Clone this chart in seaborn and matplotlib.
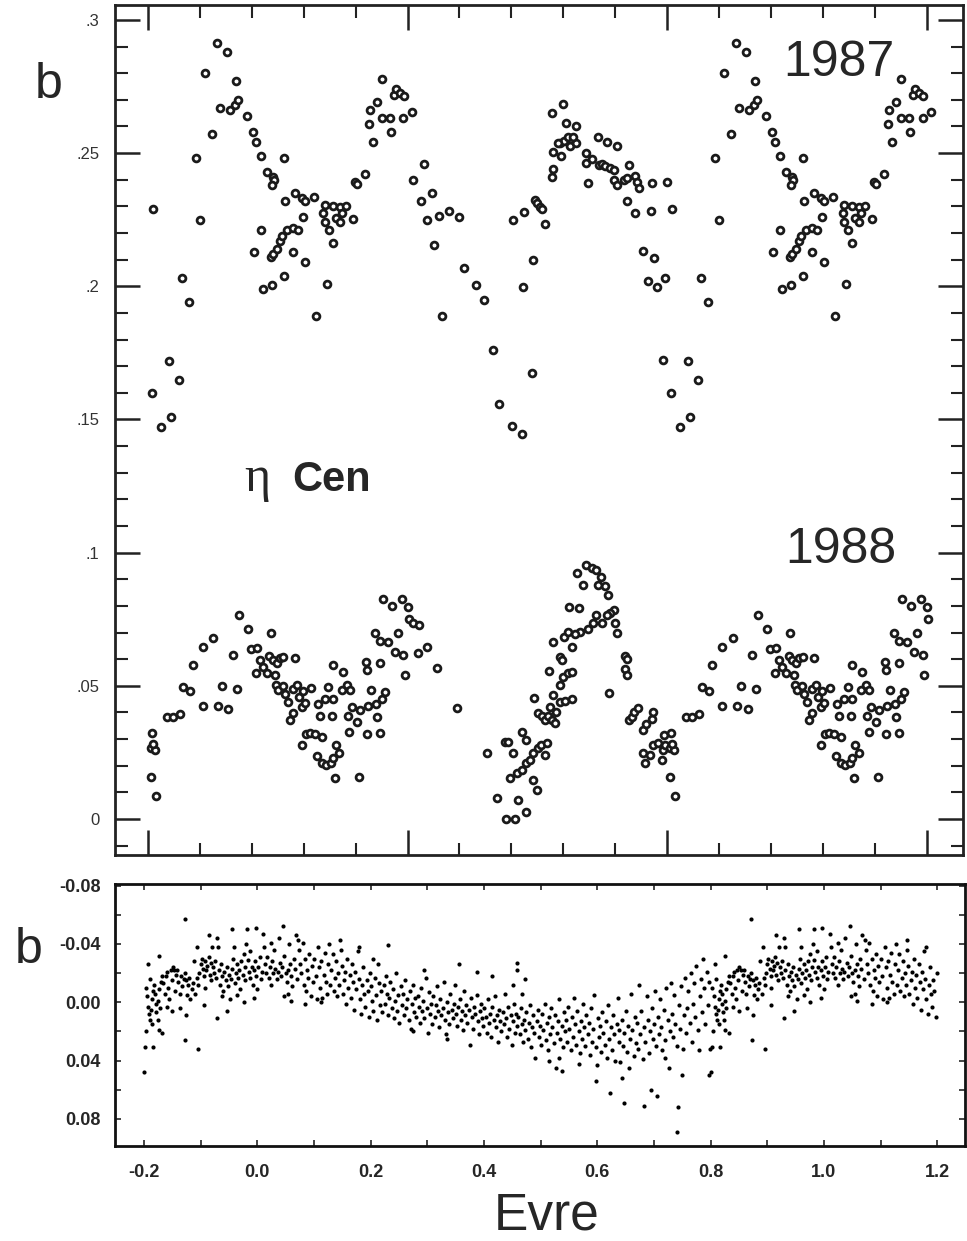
import numpy as np
import pandas as pd
import matplotlib
matplotlib.use("Agg")
import matplotlib.pyplot as plt
import seaborn as sns
from matplotlib.ticker import FixedLocator, MultipleLocator

sns.set_style("ticks")
plt.rcParams['font.family'] = ['Liberation Sans', 'DejaVu Sans']

# ---------------- top panel: eta Cen, 1987 (phase, b) ----------------
phase_1987 = [0.010,0.007,0.025,0.040,0.044,0.060,0.066,0.078,0.092,0.100,0.110,0.123,0.132,0.152,0.170,
              0.139,0.158,0.168,0.173,0.190,0.202,0.208,0.217,0.229,0.240,0.243,0.238,0.262,0.217,0.204,
              0.222,0.238,0.262,0.236,0.241,0.248,0.254,0.258,0.267,0.280,0.288,0.280,0.299,0.302,0.264,
              0.283,0.296,0.302,0.319,0.324,0.341,0.357,0.369,0.382,0.338,0.341,0.349,0.357,0.362,0.369,
              0.373,0.394,0.344,0.399,0.402,0.418,0.425,0.433,0.428,0.441,0.450,0.450,0.466,0.468,0.473,
              0.478,0.486,0.493,0.492,0.508,0.511,0.531,0.525,0.547,0.538,0.561,0.579,0.600,0.551,0.566,
              0.609,0.632,0.647,0.664,0.676,
              0.701,0.721,0.739,0.722,0.741,0.704,0.724,0.746,0.750,0.755,0.759,0.765,0.778,0.799,0.781,
              0.793,0.778,0.781,0.795,0.802,0.805,0.810,0.813,0.824,0.824,0.818,0.789,0.844,0.844,0.847,
              0.855,0.866,0.868,0.874,0.881,0.885,0.890,0.897,0.904,0.897,0.904,0.916,0.927,0.922,0.938,
              0.942,0.945,0.922,0.938,0.969,0.970,0.999,0.954,0.974,0.964,0.980,0.996,0.992]
b_1987 = [0.229,0.160,0.147,0.172,0.151,0.165,0.203,0.194,0.248,0.225,0.280,0.257,0.2915,0.288,0.277,
          0.267,0.266,0.268,0.270,0.264,0.258,0.254,0.249,0.243,0.241,0.240,0.238,0.248,0.221,0.213,
          0.199,0.2005,0.204,0.211,0.212,0.214,0.217,0.219,0.221,0.222,0.221,0.213,0.226,0.209,0.232,
          0.235,0.233,0.232,0.2335,0.189,0.2306,0.230,0.2297,0.230,0.2277,0.224,0.221,0.2164,0.2256,0.2243,
          0.2274,0.2252,0.201,0.2393,0.2383,0.2422,0.261,0.254,0.266,0.269,0.278,0.263,0.263,0.258,0.272,
          0.274,0.2725,0.2716,0.263,0.2656,0.240,0.246,0.232,0.235,0.225,0.2264,0.2284,0.2262,0.2155,0.189,
          0.207,0.2005,0.195,0.176,0.1557,
          0.1476,0.1446,0.1676,0.1997,0.210,0.225,0.228,0.2324,0.2312,0.2297,0.229,0.2233,0.2652,0.2685,0.2506,
          0.2537,0.2412,0.244,0.249,0.2544,0.2612,0.2562,0.2525,0.260,0.2537,0.256,0.2537,0.250,0.2462,0.2387,
          0.2477,0.2562,0.2456,0.246,0.245,0.254,0.2443,0.2435,0.2525,0.240,0.238,0.240,0.2456,0.2406,0.2415,
          0.2393,0.2368,0.2322,0.2274,0.2284,0.2387,0.239,0.2134,0.2105,0.202,0.1997,0.2033,0.1724]

# ---------------- top panel: eta Cen, 1988 (phase, b) ----------------
phase_1988 = [0.007,0.005,0.0135,0.010,0.005,0.0154,0.036,0.0475,0.0617,0.0668,0.081,0.0873,0.105,0.1066,0.126,
              0.1355,0.142,0.155,0.163,0.172,0.176,0.193,0.198,0.2107,0.208,0.216,0.222,0.2286,0.234,0.236,
              0.2415,0.248,0.245,0.254,0.261,0.2466,0.251,0.2595,0.264,0.270,0.2736,0.2787,0.283,0.280,0.2877,
              0.2916,0.296,0.3025,0.2993,0.296,0.3044,0.312,0.322,0.3346,0.325,0.3346,0.343,0.352,0.357,0.362,
              0.3687,0.360,0.3134,0.328,0.3307,0.341,0.3475,0.356,0.354,0.356,0.375,0.373,0.3827,0.389,0.386,
              0.3925,0.388,0.403,0.408,0.407,0.420,0.421,0.4245,0.429,0.4226,0.438,0.447,0.446,0.439,0.4406,
              0.447,0.450,0.457,0.452,0.4695,0.463,0.482,0.4887,0.476,0.492,0.495,0.5016,0.503,0.511,0.5228,
              0.521,0.538,0.557,0.595,0.6525,0.672,
              0.688,0.694,0.704,0.720,0.728,0.697,0.712,0.728,0.690,0.707,0.7103,0.720,0.729,0.735,0.7425,
              0.752,0.758,0.765,0.768,0.7425,0.750,0.744,0.7505,0.759,0.765,0.7715,0.778,0.784,0.786,0.775,
              0.780,0.794,0.8037,0.8165,0.794,0.800,0.8098,0.8165,0.7716,0.780,0.7937,0.797,0.8015,0.810,0.8165,
              0.8118,0.830,0.8273,0.8375,0.844,0.855,0.863,0.872,0.8805,0.887,0.897,0.8906,0.884,0.8745,0.863,
              0.858,0.848,0.832,0.823,0.866,0.900,0.903,0.889,0.919,0.9225,0.919,0.9225,0.927,0.932,0.936,
              0.943,0.954,0.9595,0.970,0.973,0.954,0.958,0.967,0.9736,0.983,0.990,0.992,0.9965,0.9935]
b_1988 = [0.0324,0.0267,0.0259,0.028,0.0159,0.0088,0.0382,0.0382,0.0394,0.0494,0.0482,0.0578,0.0424,0.0645,0.0678,
          0.0424,0.050,0.0412,0.0616,0.0487,0.0766,0.0712,0.0637,0.0641,0.055,0.0598,0.057,0.055,0.0612,0.070,
          0.0597,0.0585,0.054,0.0603,0.061,0.0503,0.0484,0.0499,0.0469,0.044,0.0372,0.0397,0.0603,0.0487,0.0503,
          0.046,0.042,0.0437,0.0482,0.0278,0.0319,0.0324,0.0319,0.0307,0.0237,0.0209,0.0203,0.0212,0.0228,0.0278,
          0.0247,0.0153,0.0491,0.0432,0.0387,0.0449,0.0497,0.0449,0.0387,0.0578,0.0553,0.0484,0.0503,0.0484,0.0387,
          0.0422,0.0328,0.0365,0.041,0.0159,0.059,0.056,0.0424,0.0484,0.0319,0.070,0.067,0.0585,0.0432,0.0384,
          0.0324,0.0449,0.0478,0.0825,0.080,0.0666,0.070,0.0825,0.0628,0.0616,0.0541,0.0797,0.075,0.0735,0.0728,
          0.0622,0.0647,0.0566,0.0416,0.0249,0.0078,
          0.029,0.029,0.0247,0.0328,0.0297,0.0153,0.0071,0.0028,0.0,0.0,0.0171,0.0184,0.0209,0.0222,0.0247,
          0.0265,0.0278,0.024,0.0284,0.0146,0.0109,0.0453,0.0397,0.0387,0.0372,0.0387,0.0372,0.0362,0.0403,0.0422,
          0.0466,0.0441,0.0444,0.0449,0.0503,0.0534,0.055,0.0553,0.0557,0.0666,0.061,0.0597,0.0685,0.0703,0.0647,
          0.0797,0.0791,0.0923,0.0879,0.0954,0.0941,0.0935,0.091,0.0873,0.0841,0.0785,0.0772,0.0766,0.0735,0.0766,
          0.0735,0.0712,0.0703,0.0695,0.0879,0.0735,0.0697,0.0474,0.0612,0.060,0.0562,0.054,0.0372,0.0384,0.040,
          0.0416,0.0334,0.0357,0.0374,0.0403,0.0249,0.0209,0.024,0.0278,0.0284,0.0222,0.0259,0.0278,0.0315]

# ---------------- bottom panel: residual b vs phase ----------------
phase_res = [
 -0.200,-0.198,-0.184,-0.196,-0.174,-0.168,-0.192,-0.174,-0.128,-0.127,-0.104,-0.125,-0.094,-0.071,-0.085,-0.044,-0.018,-0.003,0.011,0.048,0.059,-0.024,-0.053,
 -0.197,-0.194,-0.193,-0.191,-0.189,-0.187,-0.186,-0.184,-0.182,-0.180,-0.179,-0.178,-0.176,-0.175,-0.173,-0.172,-0.170,-0.168,-0.190,-0.185,
 -0.166,-0.163,-0.161,-0.159,-0.157,-0.155,-0.153,-0.151,-0.149,-0.147,-0.145,-0.143,-0.141,-0.160,-0.150,
 -0.139,-0.137,-0.136,-0.134,-0.132,-0.130,-0.128,-0.126,-0.124,-0.122,-0.120,-0.118,-0.116,-0.114,-0.112,-0.110,-0.107,
 -0.106,-0.104,-0.102,-0.100,-0.098,-0.096,-0.094,-0.092,-0.090,-0.088,-0.086,-0.084,-0.082,-0.081,-0.079,-0.093,
 -0.078,-0.076,-0.074,-0.072,-0.071,-0.069,-0.068,-0.066,-0.064,-0.062,-0.060,-0.058,-0.056,-0.054,-0.052,-0.050,-0.048,-0.063,
 -0.046,-0.044,-0.042,-0.041,-0.040,-0.038,-0.036,-0.034,-0.032,-0.030,-0.028,-0.026,-0.024,-0.022,-0.021,-0.035,
 -0.019,-0.017,-0.015,-0.013,-0.012,-0.010,-0.008,-0.006,-0.004,-0.002,0.000,0.002,0.004,0.006,0.008,-0.005,
 0.012,0.014,0.016,0.018,0.020,0.022,0.024,0.026,0.028,0.030,0.032,0.034,0.036,0.038,0.040,0.025,
 0.042,0.044,0.046,0.048,0.050,0.052,0.054,0.056,0.058,0.060,0.062,0.064,0.066,0.068,0.070,0.055,
 0.072,0.074,0.076,0.078,0.080,0.082,0.084,0.086,0.088,0.090,0.092,0.094,0.096,0.098,0.085,
 0.101,0.103,0.105,0.107,0.109,0.111,0.113,0.115,0.117,0.119,0.121,0.123,0.125,0.127,0.129,0.112,
 0.131,0.133,0.135,0.137,0.139,0.141,0.143,0.145,0.147,0.149,0.151,0.153,0.155,0.157,0.159,0.146,
 0.161,0.163,0.165,0.167,0.169,0.171,0.173,0.175,0.177,0.179,0.181,0.183,0.185,0.187,0.189,0.180,
 0.191,0.193,0.195,0.197,0.199,0.201,0.203,0.205,0.207,0.209,0.211,0.213,0.215,0.217,0.219,0.205,
 0.221,0.223,0.225,0.227,0.229,0.231,0.233,0.235,0.237,0.239,0.241,0.243,0.245,0.247,0.249,0.231,
 0.251,0.253,0.255,0.257,0.259,0.261,0.263,0.265,0.267,0.269,0.271,0.273,0.275,0.277,0.279,0.275,
 0.281,0.283,0.285,0.287,0.289,0.291,0.293,0.295,0.297,0.299,0.301,0.303,0.305,0.307,0.309,0.295,
 0.311,0.313,0.315,0.317,0.319,0.321,0.323,0.325,0.327,0.329,0.331,0.333,0.335,0.337,0.339,0.334,
 0.341,0.343,0.345,0.347,0.349,0.351,0.353,0.355,0.357,0.359,0.361,0.363,0.365,0.367,0.369,0.356,
 0.371,0.373,0.375,0.377,0.379,0.381,0.383,0.385,0.387,0.389,0.391,0.393,0.395,0.397,0.399,0.388,
 0.401,0.403,0.405,0.407,0.409,0.411,0.413,0.415,0.417,0.419,0.421,0.423,0.425,0.427,0.429,0.415,
 0.431,0.433,0.435,0.437,0.439,0.441,0.443,0.445,0.447,0.449,0.451,0.453,0.455,0.457,0.459,0.458,
 0.461,0.463,0.465,0.467,0.468,0.469,0.471,0.473,0.473,0.475,0.477,0.479,0.481,0.483,0.485,0.487,0.489,0.459,0.451,0.491,
 0.493,0.495,0.497,0.499,0.501,0.503,0.505,0.507,0.509,0.511,0.513,0.514,0.515,0.517,0.519,
 0.521,0.523,0.525,0.527,0.529,0.531,0.532,0.533,0.535,0.537,0.538,0.539,0.541,0.543,0.545,0.547,0.549,
 0.551,0.553,0.555,0.557,0.559,0.561,0.563,0.565,0.567,0.568,0.569,0.571,0.573,0.575,0.577,0.579,
 0.581,0.583,0.585,0.587,0.589,0.591,0.593,0.595,0.597,0.598,0.600,0.601,0.603,0.605,0.607,0.609,
 0.611,0.613,0.615,0.617,0.619,0.621,0.623,0.624,0.626,0.628,0.630,0.632,0.634,0.636,0.638,0.639,
 0.641,0.643,0.644,0.645,0.647,0.648,0.650,0.652,0.654,0.656,0.658,0.660,0.662,0.664,0.666,0.668,
 0.670,0.672,0.674,0.676,0.678,0.680,0.682,0.683,0.685,0.687,0.689,0.691,0.693,0.694,0.696,0.698,
 0.700,0.702,0.704,0.706,0.707,0.709,0.711,0.713,0.715,0.717,0.719,0.720,0.722,0.724,0.726,0.728,0.730,
 0.732,0.734,0.736,0.738,0.740,0.741,0.743,0.744,0.746,0.748,0.750,0.751,0.753,0.755,0.757,0.759,
 0.761,0.763,0.765,0.767,0.769,0.771,0.773,0.775,0.777,0.779,0.781,0.783,0.785,0.787,0.789,0.791,0.793,0.795,0.797,0.798,0.799]
b_res = [
 0.048,0.031,0.031,0.020,0.019,0.021,-0.026,-0.032,-0.057,0.026,0.032,0.009,0.002,0.011,-0.046,-0.050,-0.050,-0.051,-0.047,-0.004,-0.001,0.000,0.006,
 -0.010,-0.004,0.003,0.008,0.012,0.005,-0.002,-0.008,-0.012,-0.006,0.001,0.007,0.012,-0.001,-0.009,0.004,-0.014,-0.018,-0.016,0.015,
 -0.013,-0.006,-0.018,-0.021,-0.010,-0.002,-0.022,-0.015,-0.024,-0.022,-0.008,-0.019,-0.022,0.003,0.006,
 -0.014,-0.006,0.004,-0.018,-0.011,-0.016,-0.020,-0.015,-0.005,-0.012,-0.017,-0.002,-0.009,-0.013,-0.028,-0.006,-0.038,
 -0.017,-0.012,-0.020,-0.026,-0.030,-0.023,-0.018,-0.028,-0.022,-0.025,-0.031,-0.019,-0.027,-0.015,-0.038,-0.010,
 -0.024,-0.020,-0.028,-0.017,-0.044,-0.038,-0.022,-0.012,-0.026,-0.018,-0.008,-0.021,-0.015,-0.024,-0.011,-0.019,-0.002,-0.004,
 -0.016,-0.023,-0.030,-0.038,-0.013,-0.020,-0.026,-0.017,-0.022,-0.009,-0.028,-0.019,-0.033,-0.015,-0.024,-0.005,
 -0.040,-0.029,-0.021,-0.017,-0.035,-0.024,-0.012,-0.022,-0.028,-0.018,-0.009,-0.024,-0.031,-0.016,-0.021,-0.003,
 -0.038,-0.026,-0.020,-0.031,-0.017,-0.024,-0.012,-0.028,-0.020,-0.036,-0.023,-0.016,-0.021,-0.044,-0.027,-0.041,
 -0.018,-0.024,-0.052,-0.032,-0.020,-0.014,-0.022,-0.040,-0.026,-0.018,-0.011,-0.030,-0.023,-0.046,-0.016,-0.006,
 -0.043,-0.036,-0.026,-0.020,-0.041,-0.012,-0.030,-0.008,-0.022,-0.017,-0.033,-0.004,-0.025,-0.014,0.001,
 -0.030,-0.018,-0.002,-0.038,-0.024,-0.010,-0.028,-0.003,-0.019,-0.034,-0.014,-0.006,-0.026,-0.040,-0.012,0.000,
 -0.022,-0.033,-0.008,-0.017,-0.028,-0.004,-0.020,-0.012,-0.036,-0.025,-0.006,-0.015,-0.021,0.001,-0.030,-0.043,
 -0.010,-0.019,-0.003,-0.026,-0.014,0.005,-0.021,-0.009,-0.035,-0.016,-0.002,0.008,-0.012,-0.024,-0.006,-0.038,
 0.003,-0.015,-0.008,0.010,-0.020,-0.011,-0.001,0.006,-0.017,-0.005,0.012,-0.026,-0.013,0.002,-0.008,-0.030,
 0.007,-0.012,0.001,-0.018,-0.006,0.009,-0.003,-0.014,0.004,-0.009,0.011,-0.001,-0.020,0.006,-0.005,-0.039,
 0.014,-0.011,0.002,-0.006,0.009,-0.015,0.004,-0.002,0.012,-0.008,0.018,0.001,-0.012,0.007,-0.003,0.020,
 0.010,-0.004,0.003,0.014,-0.010,0.006,-0.001,0.011,-0.017,0.004,0.021,-0.007,0.008,0.001,0.015,-0.022,
 -0.004,0.010,0.002,-0.011,0.006,0.017,-0.002,0.009,0.004,-0.014,0.012,0.022,0.000,0.007,0.015,0.025,
 -0.006,0.005,0.011,0.001,-0.012,0.008,0.016,0.003,-0.002,0.012,0.006,0.019,-0.008,0.009,0.002,-0.026,
 0.014,0.005,0.029,-0.003,0.010,0.018,0.003,0.008,-0.005,0.013,0.022,0.006,0.001,0.011,0.016,-0.021,
 0.004,0.010,0.021,-0.002,0.014,0.008,0.024,0.003,0.012,-0.004,0.017,0.009,0.027,0.005,0.013,-0.018,
 0.020,0.007,0.015,-0.006,0.011,0.024,0.003,0.018,0.009,0.029,0.013,0.001,0.021,0.008,0.016,-0.022,
 0.010,0.022,0.004,0.015,-0.006,0.027,0.012,-0.016,0.019,0.007,0.025,0.014,0.002,0.031,0.017,0.009,0.021,-0.027,-0.012,0.038,
 0.013,0.005,0.024,0.016,0.029,0.008,0.019,0.001,0.026,0.014,0.033,0.040,0.010,0.022,0.004,
 0.017,0.028,0.009,0.045,0.021,0.013,0.038,-0.002,0.025,0.016,0.047,0.031,0.007,0.020,0.012,0.027,0.003,
 0.018,0.033,0.010,0.024,-0.003,0.015,0.029,0.006,0.020,0.042,0.035,0.013,0.025,0.001,0.017,0.030,
 0.009,0.022,0.014,0.036,0.004,0.027,0.018,-0.005,0.054,0.031,0.043,0.011,0.024,0.016,0.034,0.007,
 0.021,0.029,0.013,0.038,0.002,0.025,0.062,0.017,0.033,0.009,0.022,0.040,0.015,-0.003,0.027,0.019,
 0.041,0.012,0.052,0.030,0.069,0.021,0.006,0.034,0.016,0.045,0.025,-0.006,0.019,0.037,0.010,0.028,
 0.014,0.032,-0.012,0.022,0.006,0.039,0.071,0.017,0.027,-0.004,0.012,0.035,0.020,0.060,0.004,0.025,
 0.015,-0.008,0.030,0.064,0.010,0.022,-0.002,0.017,0.033,0.005,0.026,0.038,-0.010,0.012,0.045,0.020,-0.013,
 0.008,0.024,-0.005,0.015,0.089,0.030,0.072,0.002,0.018,-0.011,0.050,0.032,0.009,-0.017,0.021,0.004,
 -0.008,0.014,-0.020,0.027,0.001,-0.013,0.010,-0.025,0.019,0.033,-0.004,-0.016,0.007,-0.030,-0.010,0.015,-0.021,0.002,0.050,-0.014,0.032]

top_yticks = [0, 0.05, 0.1, 0.15, 0.2, 0.25, 0.3]
top_ylabels = ['0', '.05', '.1', '.15', '.2', '.25', '.3']
bot_xticks = [-0.2, 0.0, 0.2, 0.4, 0.6, 0.8, 1.0, 1.2]
bot_xlabels = ['-0.2', '0.0', '0.2', '0.4', '0.6', '0.8', '1.0', '1.2']
bot_yticks = [-0.08, -0.04, 0.0, 0.04, 0.08]
bot_ylabels = ['-0.08', '-0.04', '0.00', '0.04', '0.08']


def fold(ph, val, upto):
    """Phase diagram: repeat the cycle one period further, up to `upto`."""
    ph = np.asarray(ph, float)
    val = np.asarray(val, float)
    m = ph + 1.0 <= upto
    return np.concatenate([ph, ph[m] + 1.0]), np.concatenate([val, val[m]])


W, H = 967, 1241
fig = plt.figure(figsize=(W / 100, H / 100), dpi=100)
fig.patch.set_facecolor('white')

ax1 = fig.add_axes([115 / W, 1 - 855 / H, (963 - 115) / W, (855 - 5) / H])
ax2 = fig.add_axes([115 / W, 1 - 1146 / H, (965 - 115) / W, (1146 - 883.5) / H])

# ---- top panel ----
frames = []
for ph, bb, yr in [(phase_1987, b_1987, '1987'), (phase_1988, b_1988, '1988')]:
    x, y = fold(ph, bb, 1.51)
    frames.append(pd.DataFrame({'phase': x, 'b': y, 'year': yr}))
top = pd.concat(frames, ignore_index=True)
sns.scatterplot(data=top, x='phase', y='b', ax=ax1, marker='o', s=24,
                color='white', edgecolor='#1a1a1a', linewidth=2.0, legend=False, zorder=3)

ax1.set_xlim(-0.0636, 1.570)
ax1.set_ylim(-0.0135, 0.3056)
ax1.xaxis.set_major_locator(FixedLocator([0.0, 0.5, 1.0, 1.5]))
ax1.xaxis.set_minor_locator(MultipleLocator(0.1))
ax1.yaxis.set_major_locator(FixedLocator(top_yticks))
ax1.yaxis.set_minor_locator(MultipleLocator(0.01))
ax1.set_yticklabels(top_ylabels)
ax1.tick_params(axis='both', which='major', direction='in', length=18, width=1.8,
                top=True, right=True, labelbottom=False, color='#222')
ax1.tick_params(axis='both', which='minor', direction='in', length=9, width=1.5,
                top=True, right=True, color='#222')
ax1.tick_params(axis='y', labelsize=12, labelcolor='#333', pad=11)
ax1.set_xlabel('')
ax1.set_ylabel('')
for s in ax1.spines.values():
    s.set_linewidth(2.0)
    s.set_color('#222')

# ---- bottom panel ----
xr, yr_ = fold(phase_res, b_res, 1.2)
bot = pd.DataFrame({'phase': xr, 'db': yr_})
sns.scatterplot(data=bot, x='phase', y='db', ax=ax2, s=9, color='black',
                linewidth=0, legend=False)
ax2.set_xlim(-0.251, 1.249)
ax2.set_ylim(0.0986, -0.0815)
ax2.xaxis.set_major_locator(FixedLocator(bot_xticks))
ax2.set_xticklabels(bot_xlabels)
ax2.xaxis.set_minor_locator(MultipleLocator(0.1))
ax2.yaxis.set_major_locator(FixedLocator(bot_yticks))
ax2.set_yticklabels(bot_ylabels)
ax2.yaxis.set_minor_locator(MultipleLocator(0.02))
ax2.tick_params(axis='both', which='both', direction='in', length=4, width=1.2,
                top=True, right=True)
ax2.tick_params(axis='x', labelsize=13, pad=13)
ax2.tick_params(axis='y', labelsize=13, pad=10)
for lbl in ax2.get_xticklabels() + ax2.get_yticklabels():
    lbl.set_fontweight('bold')
ax2.set_xlabel('')
ax2.set_ylabel('')
for s in ax2.spines.values():
    s.set_linewidth(2.0)
    s.set_color('#111')

# ---- annotations ----
def ftext(px, py, s, **kw):
    fig.text(px / W, 1 - py / H, s, **kw)

ftext(35, 98, 'b', fontsize=36, ha='left', va='baseline')
ftext(783, 76, '1987', fontsize=36, ha='left', va='baseline')
ftext(785, 563, '1988', fontsize=36, ha='left', va='baseline')
ftext(244, 491, 'η', fontsize=36, ha='left', va='baseline', family=['Liberation Serif', 'DejaVu Serif'])
ftext(292, 491, 'Cen', fontsize=30, ha='left', va='baseline', fontweight='bold')
ftext(15, 963, 'b', fontsize=36, ha='left', va='baseline')
ftext(494, 1229, 'Evre', fontsize=37, ha='left', va='baseline')

fig.savefig('out.png', dpi=100)
